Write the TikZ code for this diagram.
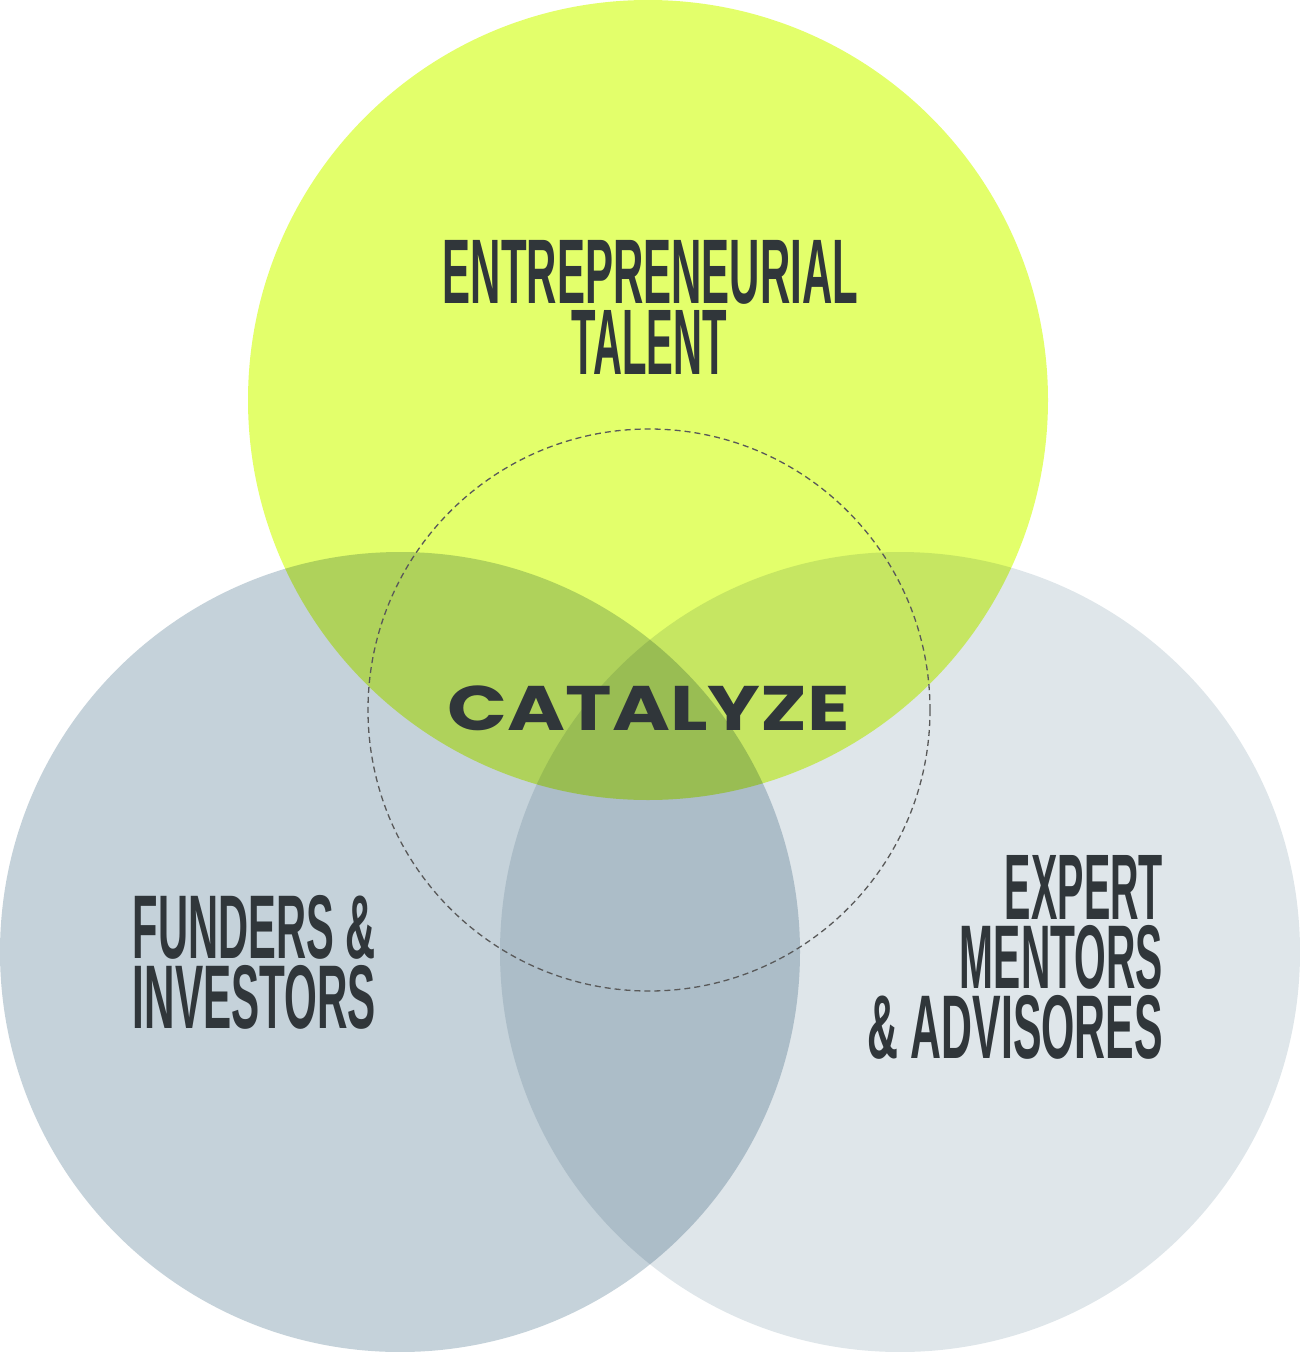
\documentclass[tikz,border=0pt]{standalone}
\usepackage{fontspec}
\setmainfont{Liberation Sans}
\newfontfamily\logofont{Poppins}
\usepackage{graphicx}
\definecolor{topc}{HTML}{E3FF6B}
\definecolor{leftc}{HTML}{C5D2DA}
\definecolor{rightc}{HTML}{DFE6EA}
\definecolor{ink}{HTML}{30363A}
\tikzset{lbl/.style={inner sep=0pt,text=ink,font=\bfseries}}
\newcommand{\fitt}[3]{\resizebox*{#1pt}{#2pt}{#3}}
\begin{document}
\begin{tikzpicture}[x=1pt,y=-1pt]
\useasboundingbox (0,0) rectangle (1300,1352);
\begin{scope}[blend group=multiply]
\fill[leftc] (400,952) circle (400);
\fill[rightc] (900,952) circle (400);
\fill[topc] (648,400) circle (400);
\end{scope}
\draw[gray!70!black,line width=1.3pt,dash pattern=on 6pt off 4pt] (649,710) circle (281);
\node[lbl] (t1) at (650.5,272.5) {\fitt{415}{64}{ENTREPRENEURIAL}};
\node[lbl] (t2) at (649.5,342.5) {\fitt{155}{64}{TALENT}};
\node[lbl] (f1) at (254.5,927.5) {\fitt{243}{64}{FUNDERS \&}};
\node[lbl] (f2) at (254.5,997.5) {\fitt{243}{64}{INVESTORS}};
\node[lbl] (e1) at (1084,887.5) {\fitt{158}{64}{EXPERT}};
\node[lbl] (e2) at (1061.5,957.5) {\fitt{203}{64}{MENTORS}};
\node[lbl] (e3) at (1015.5,1027.5) {\fitt{295}{64}{\& ADVISORES}};
\node[inner sep=0pt,text=ink] (cat) at (649,708.5) {\fitt{402}{45}{\logofont\bfseries CATALYZE}};
\end{tikzpicture}
\end{document}
